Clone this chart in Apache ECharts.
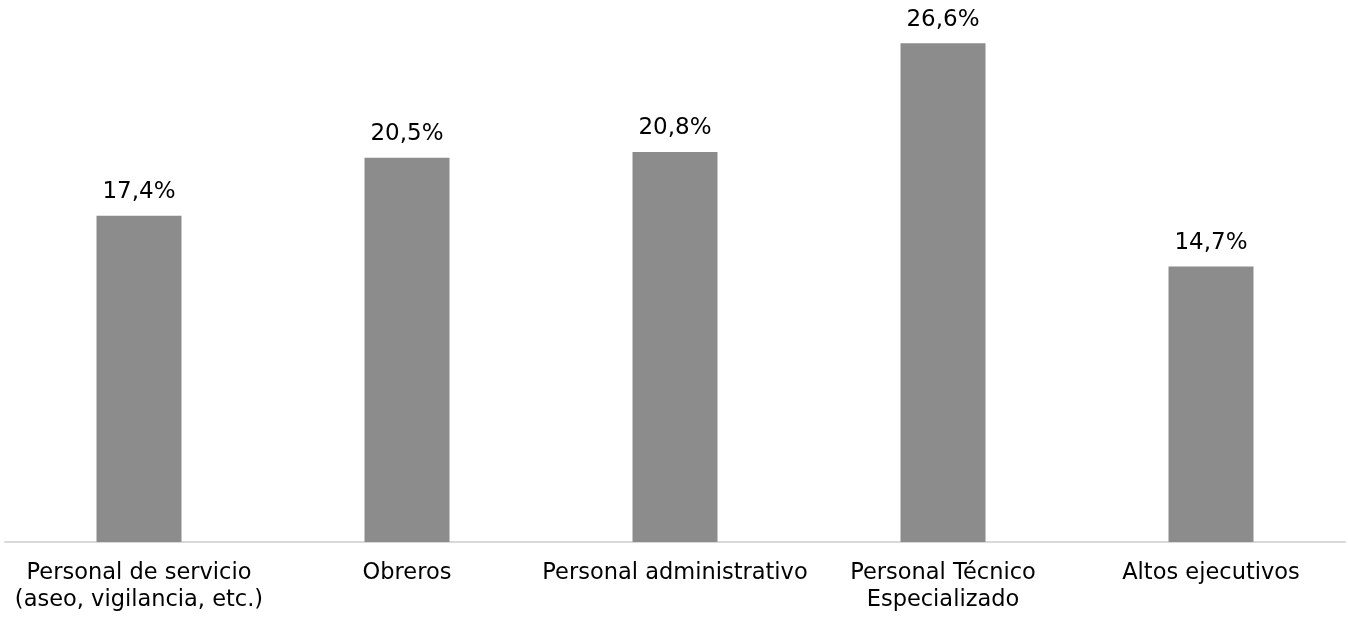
<!DOCTYPE html>
<html>
<head>
<meta charset="utf-8">
<script src="https://cdn.jsdelivr.net/npm/echarts@6/dist/echarts.min.js"></script>
<style>
  html, body { margin: 0; padding: 0; background: #fff; }
  #chart { width: 1348px; height: 617px; }
</style>
</head>
<body>
<div id="chart"></div>
<script>
// categorias y porcentajes
var categorias = ['Personal de servicio\n(aseo, vigilancia, etc.)', 'Obreros', 'Personal administrativo', 'Personal Técnico\nEspecializado', 'Altos ejecutivos'];
var porcentajes = [17.4, 20.5, 20.8, 26.6, 14.7];

var chart = echarts.init(document.getElementById('chart'));
var option = {
    animation: false,
    textStyle: {fontFamily: 'DejaVu Sans'},
    grid: {left: 5, right: 3, top: 17, bottom: 75, containLabel: false},
    xAxis: {
        type: 'category',
        data: categorias,
        axisLine: {lineStyle: {color: '#d9d9d9', width: 2}},
        axisTick: {show: false},
        axisLabel: {
            color: '#000',
            fontSize: 22.5,
            lineHeight: 27,
            margin: 18,
            interval: 0
        }
    },
    yAxis: {
        type: 'value',
        min: 0,
        max: 28,
        show: false,
        splitLine: {show: false}
    },
    series: [
        {
            type: 'bar',
            data: porcentajes,
            barWidth: 85,
            itemStyle: {color: '#8c8c8c'},
            label: {
                show: true,
                position: 'top',
                distance: 12,
                color: '#000',
                fontSize: 23,
                formatter: function (p) {
                    return p.value.toFixed(1).replace('.', ',') + '%';
                }
            }
        }
    ]
};
chart.setOption(option);
</script>
</body>
</html>
